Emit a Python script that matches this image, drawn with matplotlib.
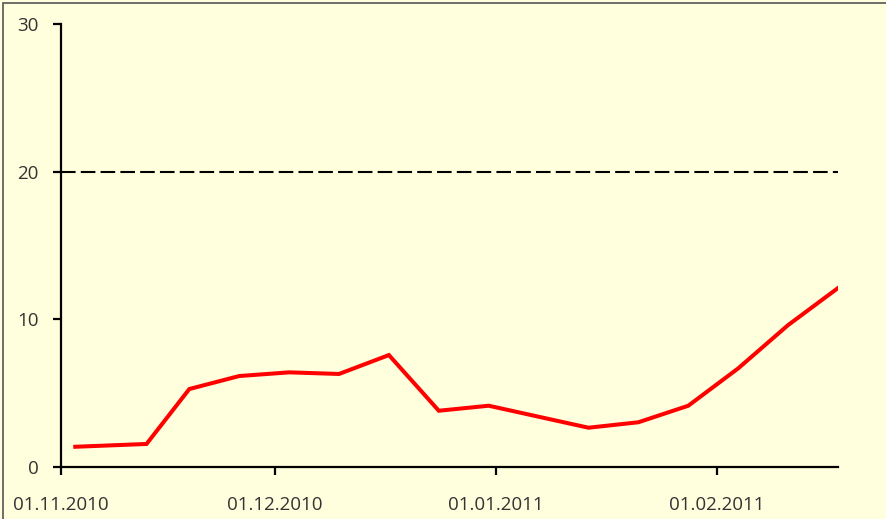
import datetime as dt
import matplotlib
matplotlib.use("Agg")
import matplotlib.pyplot as plt
import matplotlib.dates as mdates
from matplotlib.patches import Rectangle

# Werte
dates = ["2010-11-03", "2010-11-13", "2010-11-19", "2010-11-26", "2010-12-03",
         "2010-12-10", "2010-12-17", "2010-12-24", "2010-12-31", "2011-01-14",
         "2011-01-21", "2011-01-28", "2011-02-04", "2011-02-11", "2011-02-18"]
values = [1.37, 1.56, 5.28, 6.16, 6.41, 6.30, 7.58, 3.81, 4.15, 2.66,
          3.03, 4.15, 6.68, 9.61, 12.12]
threshold = 20
y_ticks = [0, 10, 20, 30]
x_start = "2010-11-01"
x_end = "2011-02-18"

x = [dt.datetime.strptime(d, "%Y-%m-%d") for d in dates]

plt.rcParams["font.family"] = ["Open Sans", "DejaVu Sans"]

bg = "#ffffdd"
fig = plt.figure(figsize=(8.87, 5.19), dpi=100, facecolor=bg)
ax = fig.add_axes([61 / 887, 1 - 467 / 519, (838 - 61) / 887, (467 - 24) / 519])
ax.set_facecolor(bg)

ax.plot(x, values, color="#ff0000", lw=2.9, solid_joinstyle="miter", zorder=3)
ax.axhline(threshold, color="black", lw=1.5, linestyle=(0, (7, 2.5)), zorder=2)

ax.set_xlim(dt.datetime.strptime(x_start, "%Y-%m-%d"), dt.datetime.strptime(x_end, "%Y-%m-%d"))
ax.set_ylim(0, 30)
ax.set_yticks(y_ticks)
ax.xaxis.set_major_locator(mdates.MonthLocator(bymonthday=1))
ax.xaxis.set_major_formatter(mdates.DateFormatter("%d.%m.%Y"))

for s in ["top", "right"]:
    ax.spines[s].set_visible(False)
for s in ["left", "bottom"]:
    ax.spines[s].set_linewidth(1.6)
    ax.spines[s].set_color("black")

ax.tick_params(axis="y", length=6, width=1.6, pad=10, labelsize=13.5, labelcolor="#333333")
ax.tick_params(axis="x", length=6, width=1.6, pad=15, labelsize=13.5, labelcolor="#333333")

# Rahmen
fig.patches.append(Rectangle((3 / 887, -0.1), 1.2, 1 - 3 / 519 + 0.1, transform=fig.transFigure,
                             fill=False, edgecolor="#555555", lw=1.2))

fig.savefig("out.png", dpi=100, facecolor=bg)
